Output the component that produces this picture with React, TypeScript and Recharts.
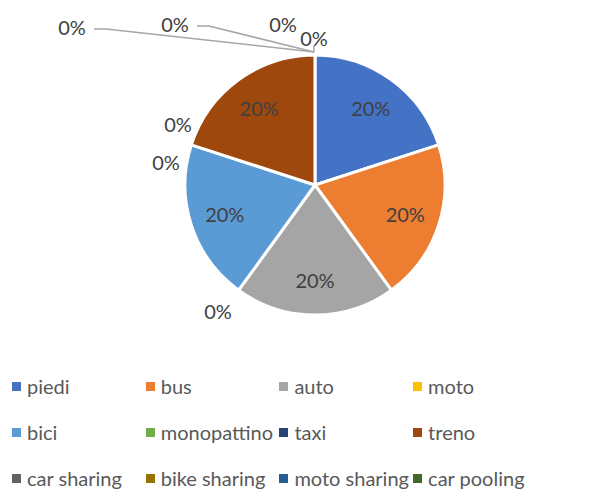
import { PieChart, Pie, Cell, Legend } from "recharts";

const categories = [
  "piedi",
  "bus",
  "auto",
  "moto",
  "bici",
  "monopattino",
  "taxi",
  "treno",
  "car sharing",
  "bike sharing",
  "moto sharing",
  "car pooling",
];
const values = [1, 1, 1, 0, 1, 0, 0, 1, 0, 0, 0, 0];
const colors = [
  "#4472C4",
  "#ED7D31",
  "#A5A5A5",
  "#FFC000",
  "#5B9BD5",
  "#70AD47",
  "#264478",
  "#9E480E",
  "#636363",
  "#997300",
  "#255E91",
  "#43682B",
];

const data = categories.map((name, i) => ({ name, value: values[i] }));

const FONT = "Lato, 'Liberation Sans', sans-serif";
const TEXT = "#404040";
const RAD = Math.PI / 180;

// where Excel dropped the labels of empty slices (offset from pie centre)
const zeroLabelOffset: Record<number, [number, number]> = {
  3: [-97, 126],
  5: [-149, -23],
  6: [-137, -61],
  8: [-1, -147],
  9: [-32, -161],
  10: [-140, -161],
  11: [-243, -158],
};

function renderLabel(props: any) {
  const { cx, cy, midAngle, outerRadius, percent, index } = props;
  const text = `${Math.round(percent * 100)}%`;
  if (values[index] > 0) {
    const r = outerRadius * 0.73;
    const x = cx + r * Math.cos(-midAngle * RAD);
    const y = cy + r * Math.sin(-midAngle * RAD);
    return (
      <text key={`l-${index}`} x={x} y={y} fill={TEXT} fontSize={20} fontFamily={FONT}
        textAnchor="middle" dominantBaseline="central">
        {text}
      </text>
    );
  }
  const off = zeroLabelOffset[index];
  if (!off) return null;
  const x = cx + off[0];
  const y = cy + off[1];
  const topX = cx - 1;
  const topY = cy - outerRadius - 3;
  let line = null;
  if (index === 10 || index === 11) {
    const sx = x + 22;
    line = (
      <polyline points={`${sx},${y + 2} ${sx + 12},${y + 2} ${topX},${topY}`}
        fill="none" stroke="#A6A6A6" strokeWidth={1.5} />
    );
  } else if (index === 8) {
    line = (
      <polyline points={`${topX},${y + 8} ${topX},${topY}`}
        fill="none" stroke="#A6A6A6" strokeWidth={1.5} />
    );
  }
  return (
    <g key={`l-${index}`}>
      {line}
      <text x={x} y={y} fill={TEXT} fontSize={20} fontFamily={FONT}
        textAnchor="middle" dominantBaseline="central">
        {text}
      </text>
    </g>
  );
}

function renderLegend() {
  return (
    <div style={{ position: "relative", width: 608, height: 120, fontFamily: FONT }}>
      {categories.map((name, i) => {
        const col = i % 4;
        const row = Math.floor(i / 4);
        return (
          <div key={name} style={{
            position: "absolute",
            left: 12 + col * 133.7,
            top: 16 + row * 46 - 12,
            height: 24,
            display: "flex",
            alignItems: "center",
            whiteSpace: "nowrap",
            fontSize: 20,
            color: "#595959",
          }}>
            <span style={{ width: 9, height: 9, background: colors[i], marginRight: 6, display: "inline-block" }} />
            {name}
          </div>
        );
      })}
    </div>
  );
}

export default function App() {
  return (
    <div style={{ position: "absolute", left: 0, top: 0, width: 608, height: 490, background: "#fff" }}>
      <PieChart width={608} height={490} margin={{ top: 0, right: 0, bottom: 0, left: 0 }}>
        <Pie
          data={data}
          dataKey="value"
          nameKey="name"
          cx={315}
          cy={185}
          outerRadius={130}
          startAngle={90}
          endAngle={-270}
          stroke="#fff"
          strokeWidth={3}
          label={renderLabel}
          labelLine={false}
          isAnimationActive={false}
        >
          {data.map((d, i) => (
            <Cell key={d.name} fill={colors[i]} />
          ))}
        </Pie>
        <Legend content={renderLegend} wrapperStyle={{ left: 0, top: 370, width: 608 }} />
      </PieChart>
    </div>
  );
}
